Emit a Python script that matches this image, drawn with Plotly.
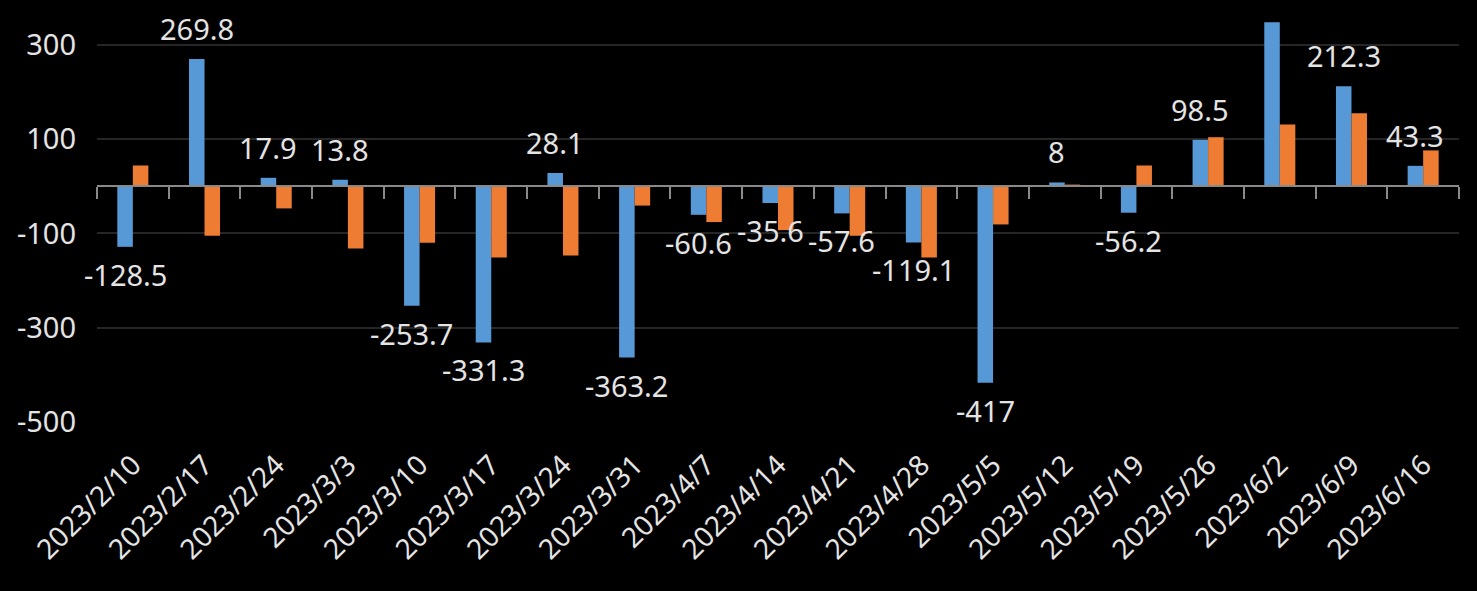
import plotly.graph_objects as go

categories = ["2023/2/10", "2023/2/17", "2023/2/24", "2023/3/3", "2023/3/10", "2023/3/17",
              "2023/3/24", "2023/3/31", "2023/4/7", "2023/4/14", "2023/4/21", "2023/4/28",
              "2023/5/5", "2023/5/12", "2023/5/19", "2023/5/26", "2023/6/2", "2023/6/9", "2023/6/16"]
series_blue = [-128.5, 269.8, 17.9, 13.8, -253.7, -331.3, 28.1, -363.2, -60.6, -35.6, -57.6,
               -119.1, -417, 8, -56.2, 98.5, 348, 212.3, 43.3]
series_orange = [44, -105, -47, -132, -120, -151, -147, -41, -76, -93, -105, -151, -81, 3.5,
                 44, 104, 131, 155, 76]
y_tick_values = [-500, -300, -100, 100, 300]

Y_MIN, Y_MAX = -500, 395
BARGAP = 0.567
FONT = "Noto Sans"
TXT = "#e4e4e4"
AXIS_GREY = "#898989"
LABEL_SPAN = 100  # approx. height of a data label in data units

fig = go.Figure()
fig.add_trace(go.Bar(x=categories, y=series_blue, marker=dict(color="#5799d6", line=dict(width=0)),
                     name="blue", showlegend=False))
fig.add_trace(go.Bar(x=categories, y=series_orange, marker=dict(color="#ee7d33", line=dict(width=0)),
                     name="orange", showlegend=False))
# helper trace so the overlay axis (zero line with boundary ticks) is drawn
fig.add_trace(go.Scatter(x=[], y=[], xaxis="x2", yaxis="y", showlegend=False, hoverinfo="skip"))

n = len(categories)
offset = (1 - BARGAP) / 4
for i, v in enumerate(series_blue):
    if v + LABEL_SPAN > Y_MAX:
        continue  # label falls outside the plot area in the reference (clipped)
    fig.add_annotation(
        x=i - offset, y=v, xref="x2", yref="y",
        text=f"{v:g}", showarrow=False,
        yanchor="bottom" if v >= 0 else "top",
        yshift=9 if v >= 0 else -6,
        font=dict(family=FONT, size=29, color=TXT),
    )

fig.update_layout(
    width=1477, height=591,
    margin=dict(l=97, r=18, t=0, b=169),
    paper_bgcolor="black", plot_bgcolor="black",
    barmode="group", bargap=BARGAP, bargroupgap=0,
    font=dict(family=FONT, size=29, color=TXT),
    xaxis=dict(type="category", range=[-0.5, n - 0.5], tickangle=-45, showgrid=False,
               ticks="", showline=False, zeroline=False, ticklabelstandoff=20,
               tickfont=dict(family=FONT, size=28, color=TXT)),
    xaxis2=dict(overlaying="x", anchor="free", position=(0 - Y_MIN) / (Y_MAX - Y_MIN),
                side="bottom", range=[-0.5, n - 0.5],
                tickvals=[i - 0.5 for i in range(n + 1)], ticks="outside", ticklen=12,
                tickwidth=2, tickcolor=AXIS_GREY, showline=True, linecolor=AXIS_GREY,
                linewidth=2, showticklabels=False, showgrid=False, zeroline=False),
    yaxis=dict(range=[Y_MIN, Y_MAX], tickvals=y_tick_values,
               ticktext=[str(v) for v in y_tick_values], showgrid=True,
               gridcolor="#262626", gridwidth=2, zeroline=False, ticks="",
               ticklabelstandoff=20,
               tickfont=dict(family=FONT, size=29, color=TXT)),
)

fig.write_html("out.html", config={"displayModeBar": False})
with open("out.html", encoding="utf-8") as f:
    html = f.read()
html = html.replace("<head>", "<head><style>html,body{margin:0;padding:0;background:#000;}</style>", 1)
with open("out.html", "w", encoding="utf-8") as f:
    f.write(html)
